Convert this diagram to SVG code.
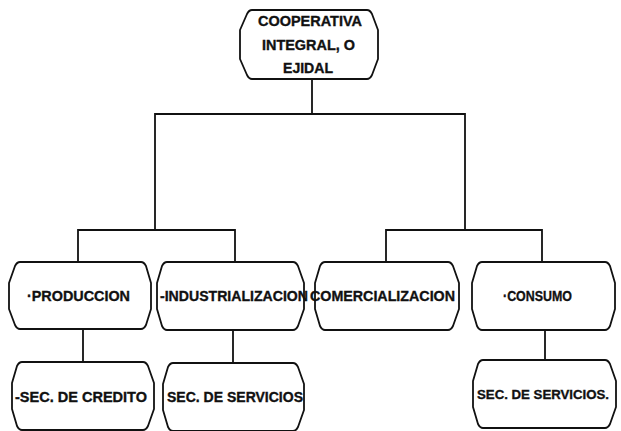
<svg xmlns="http://www.w3.org/2000/svg" width="621" height="431" viewBox="0 0 621 431">
<style>
.n{fill:#fff;stroke:#111;stroke-width:1.8;stroke-linejoin:round}
.c{fill:none;stroke:#111;stroke-width:1.8;stroke-linecap:square}
text{font-family:"Liberation Sans",Arial,sans-serif;font-weight:bold;font-size:15px;fill:#111;stroke:#111;stroke-width:0.35;text-anchor:start}
.t{font-size:14px}
</style>
<rect width="621" height="431" fill="#fff"/>
<g id="connectors">
<path class="c" d="M312,79 V114 M155,114 H465 M155,114 V230 M465,114 V230 M78,230 H235 M386,230 H542 M78,230 V262 M235,230 V262 M386,230 V262 M542,230 V262 M83,329 V362 M233,330 V363 M545,330 V360"/>
</g>
<g id="cooperativa">
<path class="n" d="M252,10 H367 Q370,10 372,14 L378,30 L378,59 L372,75 Q370,79 367,79 H252 Q249,79 247,75 L240,59 L240,30 L247,14 Q249,10 252,10 Z"/>
<text class="t" x="258" y="26" textLength="104" lengthAdjust="spacingAndGlyphs">COOPERATIVA</text>
<text class="t" x="262" y="50" textLength="93" lengthAdjust="spacingAndGlyphs">INTEGRAL, O</text>
<text class="t" x="283" y="73" textLength="50" lengthAdjust="spacingAndGlyphs">EJIDAL</text>
</g>
<g id="produccion">
<path class="n" d="M20,262 H141 Q144,262 146,266 L151,283 L151,309 L146,325 Q144,329 141,329 H20 Q17,329 15,325 L9,309 L9,283 L15,266 Q17,262 20,262 Z"/>
<text x="27" y="301" textLength="103" lengthAdjust="spacingAndGlyphs">·PRODUCCION</text>
</g>
<g id="industrializacion">
<path class="n" d="M167,262 H293 Q296,262 298,266 L304,283 L304,309 L298,326 Q296,330 293,330 H167 Q164,330 162,326 L157,309 L157,283 L162,266 Q164,262 167,262 Z"/>
<text x="160" y="301" textLength="148" lengthAdjust="spacingAndGlyphs">-INDUSTRIALIZACION</text>
</g>
<g id="comercializacion">
<path class="n" d="M325,262 H448 Q451,262 453,266 L459,283 L459,309 L453,326 Q451,330 448,330 H325 Q322,330 320,326 L315,309 L315,283 L320,266 Q322,262 325,262 Z"/>
<text x="310" y="301" textLength="145" lengthAdjust="spacingAndGlyphs">COMERCIALIZACION</text>
</g>
<g id="consumo">
<path class="n" d="M482,262 H605 Q608,262 610,266 L615,283 L615,309 L610,326 Q608,330 605,330 H482 Q479,330 477,326 L472,309 L472,283 L477,266 Q479,262 482,262 Z"/>
<text x="503" y="301" textLength="69" lengthAdjust="spacingAndGlyphs">·CONSUMO</text>
</g>
<g id="sec-credito">
<path class="n" d="M22,362 H143 Q146,362 148,366 L154,383 L154,409 L148,426 Q146,430 143,430 H22 Q19,430 17,426 L12,409 L12,383 L17,366 Q19,362 22,362 Z"/>
<text x="15" y="402" textLength="132" lengthAdjust="spacingAndGlyphs">-SEC. DE CREDITO</text>
</g>
<g id="sec-servicios-1">
<path class="n" d="M173,363 H293 Q296,363 298,367 L304,384 L304,410 L298,427 Q296,431 293,431 H173 Q170,431 168,427 L163,410 L163,384 L168,367 Q170,363 173,363 Z"/>
<text x="167" y="402" textLength="136" lengthAdjust="spacingAndGlyphs">SEC. DE SERVICIOS</text>
</g>
<g id="sec-servicios-2">
<path class="n" d="M483,360 H605 Q608,360 610,364 L616,381 L616,407 L610,424 Q608,428 605,428 H483 Q480,428 478,424 L473,407 L473,381 L478,364 Q480,360 483,360 Z"/>
<text x="477" y="399" style="font-size:13.5px" textLength="132" lengthAdjust="spacingAndGlyphs">SEC. DE SERVICIOS.</text>
</g>
</svg>
